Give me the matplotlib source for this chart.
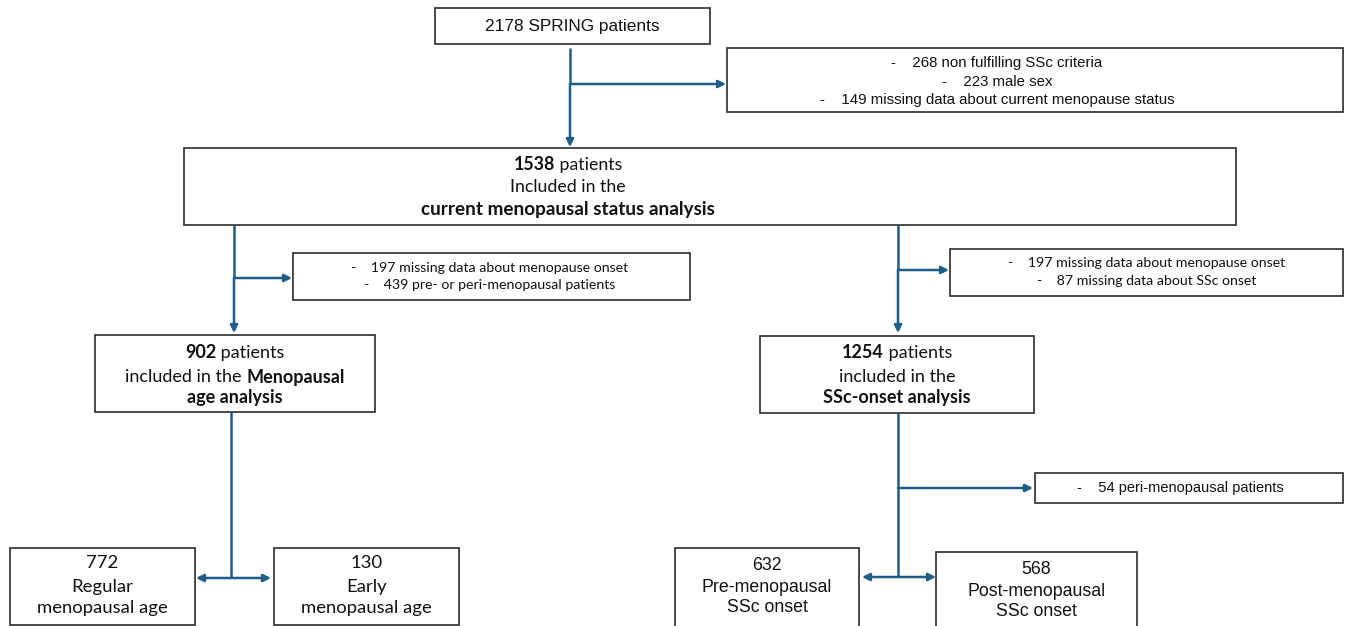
import matplotlib
matplotlib.use("Agg")
import matplotlib.pyplot as plt
from matplotlib.patches import Rectangle

# ---- content of the flowchart ----
total_patients = 2178
excluded_first = ["-    268 non fulfilling SSc criteria",
                  "-    223 male sex",
                  "-    149 missing data about current menopause status"]
status_n = 1538
excluded_left = ["-    197 missing data about menopause onset",
                 "-    439 pre- or peri-menopausal patients"]
excluded_right = ["-    197 missing data about menopause onset",
                  "-    87 missing data about SSc onset"]
menoage_n = 902
onset_n = 1254
excluded_onset = ["-    54 peri-menopausal patients"]
age_groups = [(772, "Regular", "menopausal age"), (130, "Early", "menopausal age")]
onset_groups = [(632, "Pre-menopausal", "SSc onset"), (568, "Post-menopausal", "SSc onset")]

W, H = 1347, 626
LINE = "#1f5d87"
EDGE = "#2b2b2b"
MAIN_FONT = ["Lato", "DejaVu Sans"]
NARROW_FONT = ["Liberation Sans", "DejaVu Sans"]

fig = plt.figure(figsize=(W / 100, H / 100), dpi=100)
ax = fig.add_axes([0, 0, 1, 1])
ax.set_xlim(0, W)
ax.set_ylim(H, 0)
ax.axis("off")
renderer = fig.canvas.get_renderer()


def box(x0, y0, x1, y1):
    ax.add_patch(Rectangle((x0, y0), x1 - x0, y1 - y0, fill=False,
                           edgecolor=EDGE, linewidth=1.2))


def rich_line(x, y, parts, size, family=MAIN_FONT):
    # parts: list of (text, weight); centred at x
    items = []
    for s, w in parts:
        t = ax.text(0, y, s, fontsize=size, fontweight=w, family=family,
                    ha="left", va="center", color="#111111")
        items.append(t)
    widths = [t.get_window_extent(renderer).width for t in items]
    left = x - sum(widths) / 2
    for t, wd in zip(items, widths):
        t.set_x(left)
        left += wd


def lines_text(x, ys, texts, size, family=NARROW_FONT):
    for y, s in zip(ys, texts):
        ax.text(x, y, s, fontsize=size, family=family, ha="center",
                va="center", color="#111111")


def seg(x0, y0, x1, y1):
    ax.plot([x0, x1], [y0, y1], color=LINE, lw=1.8, solid_capstyle="butt")


def arrow(x0, y0, x1, y1, style="-|>"):
    ax.annotate("", xy=(x1, y1), xytext=(x0, y0),
                arrowprops=dict(arrowstyle=style, color=LINE, lw=1.8,
                                mutation_scale=11, shrinkA=0, shrinkB=0))


# top box
box(435, 8, 710, 44)
lines_text(572, [27], [f"{total_patients} SPRING patients"], 12.4)

# first exclusion
box(727, 48, 1343, 112)
lines_text(997, [63, 82, 100], excluded_first, 10.8)
seg(570, 48, 570, 84)
arrow(570, 84, 726, 84)
arrow(570, 84, 570, 147)

# current menopausal status box
box(184, 148, 1236, 225)
rich_line(568, 165, [(str(status_n), "bold"), (" patients", "normal")], 12.8)
rich_line(568, 187, [("Included in the", "normal")], 12.8)
rich_line(568, 210, [("current menopausal status analysis", "bold")], 13.6)

# left branch
seg(234, 225, 234, 278)
arrow(234, 278, 292, 278)
arrow(234, 278, 234, 333)
box(293, 253, 690, 300)
lines_text(490, [268, 285], excluded_left, 10.2, MAIN_FONT)

# right branch
seg(898, 225, 898, 270)
arrow(898, 270, 949, 270)
arrow(898, 270, 898, 333)
box(950, 249, 1343, 296)
lines_text(1147, [263, 281], excluded_right, 10.2, MAIN_FONT)

# menopausal age box
box(95, 335, 375, 412)
rich_line(235, 353, [(str(menoage_n), "bold"), (" patients", "normal")], 13)
rich_line(235, 377, [("included in the ", "normal"), ("Menopausal", "bold")], 13)
rich_line(235, 398, [("age analysis", "bold")], 13)

# SSc onset box
box(760, 336, 1034, 413)
rich_line(897, 353, [(str(onset_n), "bold"), (" patients", "normal")], 13)
rich_line(897, 377, [("included in the", "normal")], 13)
rich_line(897, 398, [("SSc-onset analysis", "bold")], 13)

# menopausal age split
seg(231, 412, 231, 578)
arrow(231, 578, 196, 578)
arrow(231, 578, 271, 578)
for (x0, x1), (n, a, b) in zip([(10, 195), (274, 459)], age_groups):
    box(x0, 548, x1, 625)
    lines_text((x0 + x1) / 2, [563, 587, 608], [str(n), a, b], 13.3, MAIN_FONT)

# SSc onset split
seg(898, 413, 898, 577)
arrow(898, 488, 1033, 488)
box(1035, 473, 1343, 503)
lines_text(1180, [488], excluded_onset, 10.5)
arrow(898, 577, 862, 577)
arrow(898, 577, 936, 577)
for (x0, x1, y0), (n, a, b) in zip([(675, 859, 548), (936, 1137, 552)], onset_groups):
    box(x0, y0, x1, 627)
    lines_text((x0 + x1) / 2, [y0 + 17, y0 + 39, y0 + 60], [str(n), a, b], 12.8)

fig.savefig("out.png", dpi=100, facecolor="white")
